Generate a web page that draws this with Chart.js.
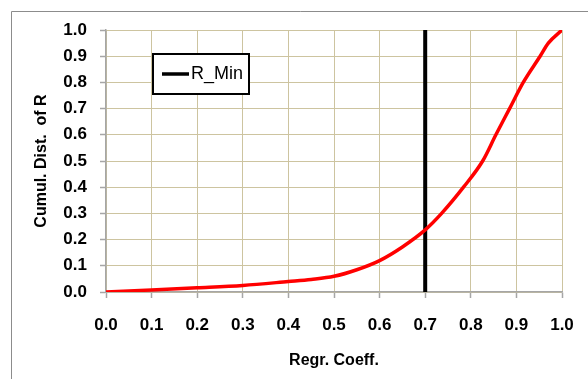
<!DOCTYPE html>
<html>
<head>
<meta charset="utf-8">
<script src="https://cdn.jsdelivr.net/npm/chart.js@4/dist/chart.umd.min.js"></script>
<style>
  html, body { margin: 0; padding: 0; background: #ffffff; }
  #wrap { width: 588px; height: 379px; position: relative; }
</style>
</head>
<body>
<div id="wrap"><canvas id="c" width="588" height="379"></canvas></div>
<script>
// Cumulative distribution of the regression coefficient R
const regrCoeff = [0, 0.1, 0.2, 0.3, 0.4, 0.45, 0.5, 0.55, 0.6, 0.65, 0.7, 0.736, 0.784, 0.826, 0.855, 0.885, 0.915, 0.952, 0.97, 1.0];
const cumulDist = [0, 0.008, 0.016, 0.025, 0.04, 0.048, 0.06, 0.085, 0.12, 0.172, 0.237, 0.3, 0.4, 0.5, 0.6, 0.7, 0.8, 0.9, 0.95, 1.0];

// Threshold marker R_Min drawn as a vertical line
const rMinLabel = 'R_Min';
const rMinX = [0.7, 0.7];
const rMinY = [0, 1];

// Axis tick values
const xTicks = [0, 0.1, 0.2, 0.3, 0.4, 0.5, 0.6, 0.7, 0.8, 0.9, 1.0];
const yTicks = [0, 0.1, 0.2, 0.3, 0.4, 0.5, 0.6, 0.7, 0.8, 0.9, 1.0];

const xTitle = 'Regr. Coeff.';
const yTitle = 'Cumul. Dist.  of R';

const FONT = "'Liberation Sans', Arial, sans-serif";
const GRID = '#cdc4a0';
const AXIS = '#a6a6a6';

const curvePts = regrCoeff.map((x, i) => ({ x: x, y: cumulDist[i] }));
const rMinPts = rMinX.map((x, i) => ({ x: x, y: rMinY[i] }));

// White background with the outer frame
const framePlugin = {
  id: 'frame',
  beforeDraw(chart) {
    const ctx = chart.ctx;
    ctx.save();
    ctx.fillStyle = '#ffffff';
    ctx.fillRect(0, 0, chart.width, chart.height);
    ctx.strokeStyle = '#8c8c8c';
    ctx.lineWidth = 1;
    ctx.beginPath();
    ctx.moveTo(11.5, chart.height + 2);
    ctx.lineTo(11.5, 11.5);
    ctx.lineTo(chart.width + 2, 11.5);
    ctx.stroke();
    ctx.restore();
  }
};

// Boxed legend inside the plot area
const boxLegendPlugin = {
  id: 'boxLegend',
  afterDatasetsDraw(chart) {
    const ctx = chart.ctx;
    const a = chart.chartArea;
    const ds = chart.data.datasets[1];
    const bx = a.left + 47, by = a.top + 24, bw = 96, bh = 40;
    ctx.save();
    ctx.fillStyle = '#ffffff';
    ctx.fillRect(bx, by, bw, bh);
    ctx.strokeStyle = '#000000';
    ctx.lineWidth = 2;
    ctx.strokeRect(bx, by, bw, bh);
    const cy = by + bh / 2;
    ctx.strokeStyle = ds.borderColor;
    ctx.lineWidth = 3.5;
    ctx.beginPath();
    ctx.moveTo(bx + 9, cy);
    ctx.lineTo(bx + 36, cy);
    ctx.stroke();
    ctx.fillStyle = '#000000';
    ctx.font = '18px ' + FONT;
    ctx.textBaseline = 'middle';
    ctx.textAlign = 'left';
    ctx.fillText(ds.label, bx + 38, cy);
    ctx.restore();
  }
};

const tickFont = { family: FONT, size: 17, weight: 'bold', lineHeight: 1.2 };
const titleFont = { family: FONT, size: 16, weight: 'bold', lineHeight: 1.2 };

new Chart(document.getElementById('c'), {
  type: 'scatter',
  data: {
    datasets: [
      {
        label: 'Cumul. Dist.',
        data: curvePts,
        showLine: true,
        borderColor: '#ff0000',
        borderWidth: 3.5,
        pointRadius: 0,
        cubicInterpolationMode: 'monotone',
        fill: false
      },
      {
        label: rMinLabel,
        data: rMinPts,
        showLine: true,
        borderColor: '#000000',
        borderWidth: 4,
        pointRadius: 0,
        fill: false
      }
    ]
  },
  options: {
    responsive: false,
    animation: false,
    devicePixelRatio: 1,
    layout: { padding: { left: 0, top: 30, right: 26, bottom: 0 } },
    plugins: {
      legend: { display: false },
      tooltip: { enabled: false }
    },
    scales: {
      x: {
        type: 'linear',
        min: 0,
        max: 1,
        afterFit(scale) {
          scale.height = 87;
          scale.paddingLeft = 0;
          scale.paddingRight = 0;
        },
        afterBuildTicks(scale) { scale.ticks = xTicks.map(v => ({ value: v })); },
        ticks: {
          color: '#000000',
          padding: 17,
          maxRotation: 0,
          autoSkip: false,
          font: tickFont,
          callback: v => Number(v).toFixed(1)
        },
        grid: {
          color: GRID,
          lineWidth: 1,
          borderDash: [4, 3],
          drawTicks: true,
          tickLength: 6,
          tickColor: AXIS,
          tickBorderDash: [],
          tickWidth: 1.5
        },
        border: { display: true, color: AXIS, width: 1.5 },
        title: {
          display: true,
          text: xTitle,
          color: '#000000',
          font: titleFont,
          padding: { top: 0, bottom: 9 }
        }
      },
      y: {
        type: 'linear',
        min: 0,
        max: 1,
        afterFit(scale) {
          scale.width = 106;
          scale.paddingTop = 0;
          scale.paddingBottom = 0;
        },
        afterBuildTicks(scale) { scale.ticks = yTicks.map(v => ({ value: v })); },
        ticks: {
          color: '#000000',
          padding: 13,
          autoSkip: false,
          font: tickFont,
          callback: v => Number(v).toFixed(1)
        },
        grid: {
          color: GRID,
          lineWidth: 1,
          borderDash: [4, 3],
          drawTicks: true,
          tickLength: 6,
          tickColor: AXIS,
          tickBorderDash: [],
          tickWidth: 1.5
        },
        border: { display: true, color: AXIS, width: 1.5 },
        title: {
          display: true,
          text: yTitle,
          color: '#000000',
          font: titleFont,
          padding: { top: 32, bottom: 0 }
        }
      }
    }
  },
  plugins: [framePlugin, boxLegendPlugin]
});
</script>
</body>
</html>
